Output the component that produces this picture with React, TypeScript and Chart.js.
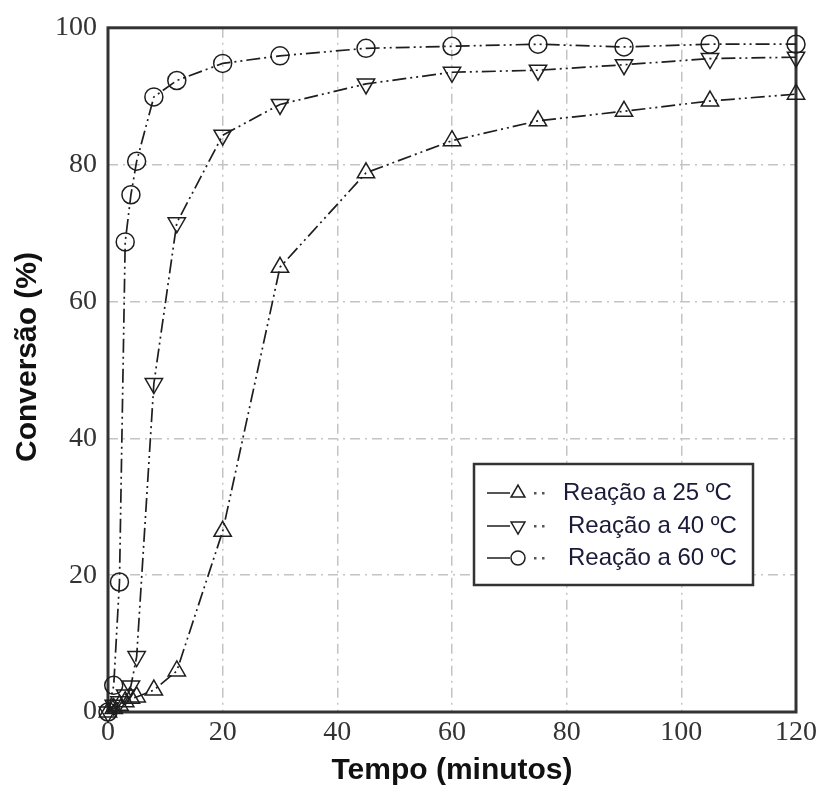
import React, { useEffect, useRef } from "react";
import { Chart, registerables } from "chart.js";

Chart.register(...registerables);

// ---- data ----
const times = [0, 1, 2, 3, 4, 5, 8, 12, 20, 30, 45, 60, 75, 90, 105, 120];
const conv25 = [0, 0.5, 1, 1.5, 2, 2.2, 3.2, 6, 26.4, 65, 78.8, 83.5, 86.4, 87.8, 89.3, 90.3];
const conv40 = [0, 1, 1.5, 2.5, 3.8, 8.1, 48, 71.5, 84.3, 88.8, 91.8, 93.5, 93.8, 94.6, 95.5, 95.7];
const conv60 = [0, 3.9, 19, 68.7, 75.6, 80.5, 89.9, 92.3, 94.8, 95.9, 97, 97.3, 97.6, 97.2, 97.6, 97.6];
const seriesLabels = ["Reação a 25 ºC", "Reação a 40 ºC", "Reação a 60 ºC"];
const xTitle = "Tempo (minutos)";
const yTitle = "Conversão (%)";
const xMin = 0, xMax = 120, xStep = 20;
const yMin = 0, yMax = 100, yStep = 20;

const INK = "#1e1e1e";
const DASH = [14, 4, 2, 4, 2, 4];
const SANS = "'Liberation Sans', Arial, sans-serif";
const SERIF = "'Liberation Serif', 'Times New Roman', serif";

function toXY(ys: number[]) {
  return times.map((t, i) => ({ x: t, y: ys[i] }));
}

function drawMarker(ctx: CanvasRenderingContext2D, kind: string, x: number, y: number, r: number) {
  ctx.beginPath();
  if (kind === "circle") {
    ctx.arc(x, y, r, 0, Math.PI * 2);
  } else {
    const dir = kind === "up" ? 1 : -1;
    const w = Math.sin(Math.PI / 3) * r;
    ctx.moveTo(x, y - dir * r);
    ctx.lineTo(x + w, y + dir * r / 2);
    ctx.lineTo(x - w, y + dir * r / 2);
    ctx.closePath();
  }
  ctx.stroke();
}

const framePlugin = {
  id: "frame",
  beforeDatasetsDraw(chart: any) {
    const { ctx, chartArea: a } = chart;
    ctx.save();
    ctx.strokeStyle = "#333";
    ctx.lineWidth = 3;
    ctx.strokeRect(a.left, a.top, a.right - a.left, a.bottom - a.top);
    ctx.restore();
  },
};

const yTitlePlugin = {
  id: "yTitle",
  afterDraw(chart: any) {
    const { ctx } = chart;
    ctx.save();
    ctx.translate(28, 357);
    ctx.rotate(-Math.PI / 2);
    ctx.font = `bold 30px ${SANS}`;
    ctx.fillStyle = "#111";
    ctx.textAlign = "center";
    ctx.textBaseline = "middle";
    ctx.fillText(yTitle, 0, 0);
    ctx.restore();
  },
};

const legendPlugin = {
  id: "customLegend",
  afterDraw(chart: any) {
    const { ctx } = chart;
    ctx.save();
    const bx = 474, by = 464, bw = 279, bh = 121;
    ctx.fillStyle = "#fff";
    ctx.fillRect(bx, by, bw, bh);
    ctx.strokeStyle = "#333";
    ctx.lineWidth = 2.5;
    ctx.strokeRect(bx, by, bw, bh);
    const kinds = ["up", "down", "circle"];
    const rows = [493, 526, 558];
    const textX = [563, 568, 568];
    ctx.font = `24px ${SANS}`;
    ctx.textBaseline = "middle";
    rows.forEach((ry, i) => {
      ctx.strokeStyle = INK;
      ctx.lineWidth = 1.5;
      ctx.beginPath();
      ctx.moveTo(487, ry);
      ctx.lineTo(510, ry);
      ctx.stroke();
      drawMarker(ctx, kinds[i], 518, ry, kinds[i] === "circle" ? 7 : 8);
      ctx.fillStyle = "#555";
      ctx.fillRect(534, ry - 1, 2.5, 2.5);
      ctx.fillRect(542, ry - 1, 2.5, 2.5);
      ctx.fillStyle = "#1a1a3a";
      ctx.fillText(seriesLabels[i], textX[i], ry);
    });
    ctx.restore();
  },
};

export default function App() {
  const ref = useRef<HTMLCanvasElement>(null);
  useEffect(() => {
    if (!ref.current) return;
    const ds = (label: string, ys: number[], style: string, r: number, rot: number) => ({
      label,
      data: toXY(ys),
      borderColor: INK,
      borderWidth: 1.7,
      borderDash: DASH,
      tension: 0,
      pointStyle: style,
      pointRotation: rot,
      pointRadius: r,
      pointBorderWidth: 1.5,
      pointBorderColor: INK,
      pointBackgroundColor: "rgba(0,0,0,0)",
      clip: false as any,
    });
    const chart = new Chart(ref.current, {
      type: "line",
      data: {
        datasets: [
          ds(seriesLabels[0], conv25, "triangle", 10, 0),
          ds(seriesLabels[1], conv40, "triangle", 10, 180),
          ds(seriesLabels[2], conv60, "circle", 9, 0),
        ],
      },
      options: {
        animation: false,
        responsive: false,
        devicePixelRatio: 1,
        layout: { padding: { left: 0, top: 23, right: 24, bottom: 0 } },
        plugins: { legend: { display: false }, tooltip: { enabled: false } },
        scales: {
          x: {
            type: "linear",
            min: xMin,
            max: xMax,
            ticks: { stepSize: xStep, color: "#333", padding: 4, font: { family: SERIF, size: 28 } },
            grid: { color: "#c4c4c4", lineWidth: 1.5, drawTicks: false },
            border: { display: false, dash: [10, 5, 2, 5] },
            title: {
              display: true,
              text: xTitle,
              color: "#111",
              font: { family: SANS, size: 30, weight: "bold" },
              padding: { top: 0, bottom: 0 },
            },
            afterFit(scale: any) {
              scale.height = 77;
            },
          },
          y: {
            type: "linear",
            min: yMin,
            max: yMax,
            ticks: { stepSize: yStep, color: "#333", padding: 11, font: { family: SERIF, size: 28 } },
            grid: { color: "#c4c4c4", lineWidth: 1.5, drawTicks: false },
            border: { display: false, dash: [10, 5, 2, 5] },
            title: { display: false },
            afterFit(scale: any) {
              scale.width = 108;
            },
          },
        },
      },
      plugins: [framePlugin, legendPlugin, yTitlePlugin],
    });
    return () => chart.destroy();
  }, []);
  return (
    <div style={{ position: "fixed", left: 0, top: 0, width: 821, height: 789, background: "#fff" }}>
      <canvas ref={ref} width={821} height={789} style={{ display: "block" }} />
    </div>
  );
}
